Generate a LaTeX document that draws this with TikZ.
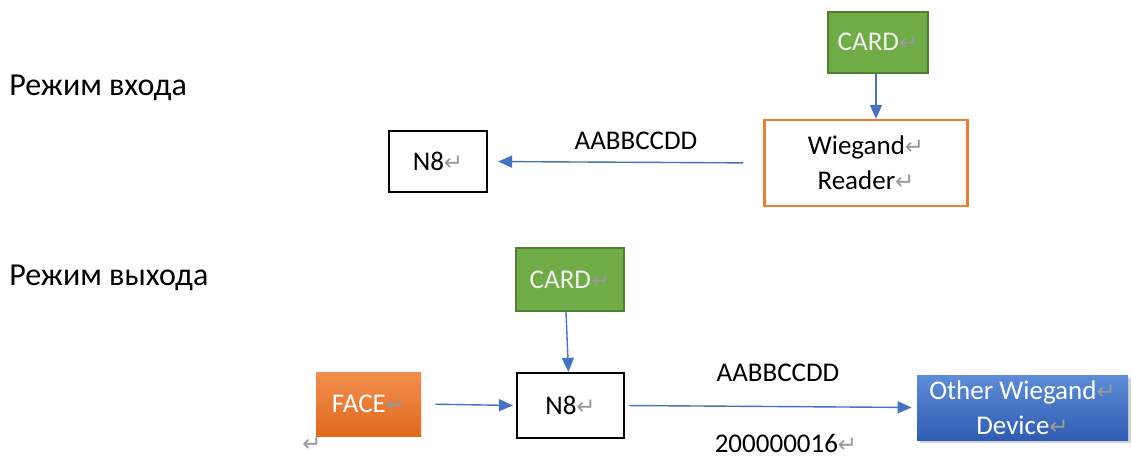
\documentclass[tikz,border=0pt]{standalone}
\usepackage{fontspec}
\setmainfont{Carlito}
\newfontfamily\retfont{DejaVu Sans}[Scale=0.85]
\usetikzlibrary{arrows.meta, shadows}
\usepackage{xcolor}
\definecolor{wgblue}{HTML}{4472C4}
\definecolor{wggreen}{HTML}{70AD47}
\definecolor{wggreendk}{HTML}{507E32}
\definecolor{wgorange}{HTML}{ED7D31}
\definecolor{wgorangelt}{HTML}{F28E4F}
\definecolor{wgorangedk}{HTML}{E2691C}
\definecolor{wgdevtop}{HTML}{5D8CD8}
\definecolor{wgdevbot}{HTML}{2E5DB3}
\definecolor{wgret}{HTML}{9A9A9A}
\newcommand{\ret}{{\retfont\textcolor{wgret}{↵}}}

\begin{document}
\begin{tikzpicture}[
    x=0.5pt, y=-0.5pt,
    font=\fontsize{13.5}{17.5}\selectfont,
    box/.style={draw, align=center, inner sep=0pt},
    card/.style={box, draw=wggreendk, line width=1pt, fill=wggreen, text=white!94!black,
                 minimum width=50pt, minimum height=30.5pt},
    ctrl/.style={box, draw=black, line width=1.1pt, fill=white},
    arr/.style={-{Triangle[length=7pt, width=6pt]}, wgblue, line width=0.7pt},
    mode/.style={anchor=west, inner sep=0pt, font=\fontsize{16}{19}\selectfont},
    lbl/.style={inner sep=0pt}]

  \useasboundingbox (0,0) rectangle (1132,456);

  % ---- entry mode ----
  \node[mode] (modein) at (9,88) {Режим входа};
  \node[card] (card1) at (878,42) {CARD\ret};
  \node[box, draw=wgorange, line width=1.2pt, fill=white,
        minimum width=101.5pt, minimum height=43pt] (reader) at (866,163)
        {Wiegand\ret\\Reader\ret};
  \node[ctrl, minimum width=49pt, minimum height=30.5pt] (n8a) at (438,161.5) {N8\ret};

  \draw[arr] ([xshift=-1pt]card1.south) -- ([xshift=-1pt]card1.south |- reader.north);
  \draw[arr, shorten <=10pt, shorten >=5pt] (reader.west) -- (n8a.east);
  \node[lbl] (code1) at (636,141) {AABBCCDD};

  % ---- exit mode ----
  \node[mode] (modeout) at (9,278) {Режим выхода};
  \node[card, minimum width=54pt, minimum height=31.5pt] (card2) at (570,279.5) {CARD\ret};
  \node[ctrl, minimum width=53.5pt, minimum height=32.5pt] (n8b) at (570.5,405.5) {N8\ret};
  \node[box, draw=none, top color=wgorangelt, bottom color=wgorangedk, text=white,
        minimum width=52.5pt, minimum height=32pt] (face) at (368.5,404) {FACE\ret};
  \node[box, draw=none, top color=wgdevtop, bottom color=wgdevbot, text=white,
        drop shadow={shadow xshift=1.5pt, shadow yshift=-1.5pt, opacity=0.35},
        minimum width=105.5pt, minimum height=32.5pt] (dev) at (1022.5,407.5)
        {Other Wiegand\ret\\Device\ret};

  \draw[arr] ([xshift=-2pt]card2.south) -- ([xshift=-1pt]n8b.north);
  \draw[arr, shorten <=7pt, shorten >=1.5pt] (face.east) -- (n8b.west);
  \draw[arr, shorten <=2pt, shorten >=2.5pt] (n8b.east) -- (dev.west);
  \node[lbl] (code2) at (778,373) {AABBCCDD};
  \node[lbl] (num)   at (786,443) {200000016\ret};
  \node[lbl] (stray) at (312,444) {\ret};
\end{tikzpicture}
\end{document}
